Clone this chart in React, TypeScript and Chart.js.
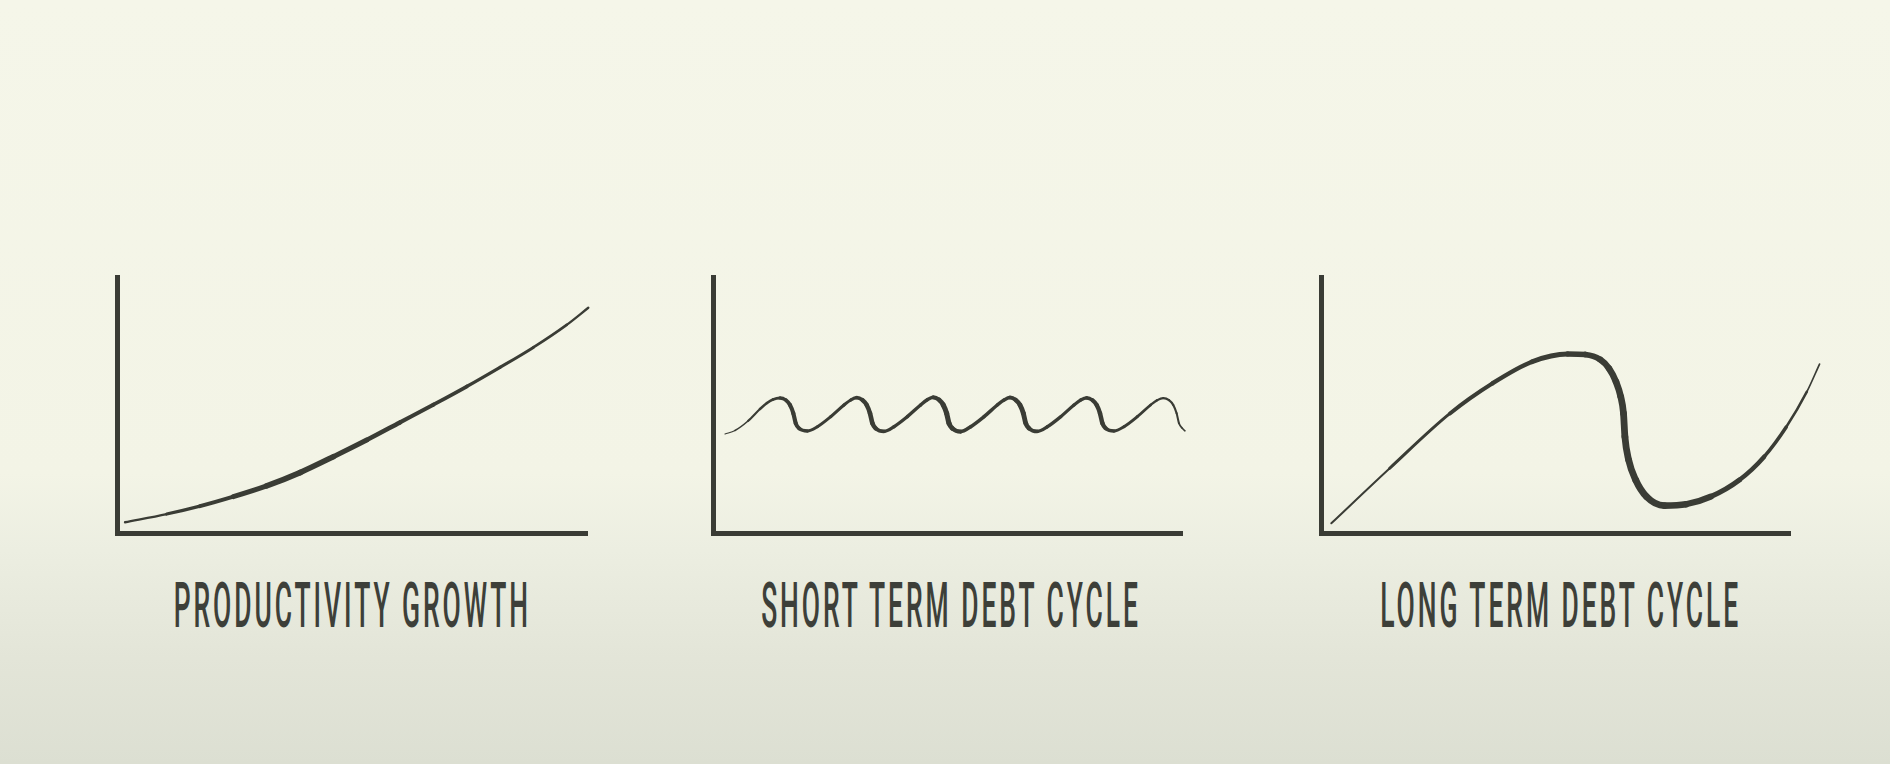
import React, { useEffect, useRef } from "react";
import { Chart, registerables } from "chart.js";

Chart.register(...registerables);

// ---- data (axis units: 0..100 along each axis) ----
const growthX = [1.7, 10.57, 17.66, 24.75, 31.84, 38.94, 46.03, 53.12, 60.21, 67.3, 74.4, 81.49, 88.58, 95.67, 100.28];
const growthY = [4.2, 7.4, 10.5, 14.2, 18.4, 23.6, 29.8, 36.3, 43.2, 50.1, 57.2, 64.7, 72.5, 81.3, 88.0];

const shortX = [
  2.56, 4.69, 7.46, 10.02, 11.51, 12.79, 14.29,
  15.51, 16.42, 17.13, 17.64, 18.34, 20.11, 22.26, 25.1, 27.93, 29.36, 30.64,
  31.86, 32.77, 33.48, 33.99, 34.69, 36.46, 38.59, 41.43, 44.26, 45.69, 46.97,
  48.19, 49.1, 49.81, 50.32, 51.02, 52.79, 54.95, 57.79, 60.62, 62.05, 63.33,
  64.55, 65.46, 66.17, 66.68, 67.38, 69.15, 71.3, 74.14, 76.97, 78.4, 79.68,
  80.9, 81.81, 82.52, 83.03, 83.73, 85.5, 87.63, 90.47, 93.3, 94.73, 96.01,
  97.23, 98.14, 98.85, 99.36, 100.06, 100.64,
];
const shortY = [
  38.67, 40.04, 43.75, 48.44, 50.78, 52.15, 52.73,
  51.95, 50.0, 46.76, 42.85, 40.9, 39.84, 41.52, 45.43, 50.0, 51.95, 52.85,
  51.95, 50.0, 46.76, 42.85, 40.9, 39.7, 41.52, 45.43, 50.0, 52.05, 53.0,
  52.05, 50.0, 46.76, 42.85, 40.9, 39.6, 41.52, 45.43, 50.0, 51.95, 52.9,
  51.95, 50.0, 46.76, 42.85, 40.9, 39.7, 41.52, 45.43, 50.0, 51.95, 52.8,
  51.9, 50.0, 46.76, 42.85, 40.9, 39.84, 41.52, 45.43, 50.0, 51.9, 52.7,
  51.9, 50.0, 46.76, 42.85, 40.9, 39.9,
];

const longX = [2.2, 14.6, 27.5, 36.6, 45.0, 52.6, 56.4, 59.5, 61.4, 62.9, 63.9, 64.5, 64.8, 65.6, 67.1, 69.4, 73.2, 77.8, 83.1, 89.2, 94.5, 99.2, 103.6, 106.3];
const longY = [3.8, 25.2, 46.7, 58.5, 66.9, 69.9, 69.7, 67.8, 64.3, 59.1, 53.3, 46.7, 37.6, 28.5, 20.7, 14.2, 10.7, 11.2, 14.2, 20.7, 29.8, 41.4, 55.2, 66.0];

const panelTitles = ["PRODUCTIVITY GROWTH", "SHORT TERM DEBT CYCLE", "LONG TERM DEBT CYCLE"];
const axisMin = 0;
const axisMax = 100;

// ---- styling / layout ----
const INK = "#3a3c35";
const TEXT_INK = "#3d3f39";
const PAD = { left: 20, right: 50, top: 20, bottom: 20 };
const AREA_TOP = 277;
const AREA_HEIGHT = 256;

type Stop = [number, number];
type PanelDef = { xs: number[]; ys: number[]; left: number; width: number; taper: Stop[]; downGain: number; labelCenter: number };
const panels: PanelDef[] = [
  { xs: growthX, ys: growthY, left: 117, width: 470, taper: [[0, 1.8], [0.18, 3.8], [0.36, 6.0], [0.55, 4.6], [0.8, 3.2], [1, 2.2]], downGain: 0, labelCenter: 351 },
  { xs: shortX, ys: shortY, left: 713, width: 469, taper: [[0, 1.0], [0.1, 2.8], [0.5, 3.6], [0.9, 3.0], [1, 1.1]], downGain: 0.45, labelCenter: 950 },
  { xs: longX, ys: longY, left: 1321, width: 469, taper: [[0, 1.5], [0.25, 3.6], [0.5, 5.4], [0.6, 6.8], [0.72, 6.6], [0.88, 4.2], [1, 1.4]], downGain: 0, labelCenter: 1559 },
];

function taperAt(stops: Stop[], t: number): number {
  if (t <= stops[0][0]) return stops[0][1];
  for (let i = 1; i < stops.length; i++) {
    if (t <= stops[i][0]) {
      const [t0, w0] = stops[i - 1];
      const [t1, w1] = stops[i];
      return w0 + ((t - t0) / (t1 - t0)) * (w1 - w0);
    }
  }
  return stops[stops.length - 1][1];
}

function Panel({ def }: { def: PanelDef }) {
  const { xs, ys, left, width, taper, downGain } = def;
  const ref = useRef<HTMLCanvasElement | null>(null);
  useEffect(() => {
    if (!ref.current) return;
    const first = xs[0];
    const last = xs[xs.length - 1];
    const common = {
      grid: { display: false, drawTicks: false },
      ticks: { display: false },
      border: { display: true, width: 5, color: INK },
    };
    const chart = new Chart(ref.current, {
      type: "line",
      data: {
        datasets: [
          {
            data: xs.map((x, i) => ({ x, y: ys[i] })),
            borderColor: INK,
            borderWidth: 3,
            borderCapStyle: "round",
            borderJoinStyle: "round",
            pointRadius: 0,
            cubicInterpolationMode: "monotone",
            capBezierPoints: false,
            clip: false,
            fill: false,
            segment: {
              borderWidth: (ctx: any) => {
                const mid = (xs[ctx.p0DataIndex] + xs[ctx.p1DataIndex]) / 2;
                let w = taperAt(taper, (mid - first) / (last - first));
                if (downGain) {
                  const dx = ctx.p1.x - ctx.p0.x;
                  const dy = ctx.p1.y - ctx.p0.y;
                  const len = Math.hypot(dx, dy) || 1;
                  w *= 1 + downGain * Math.max(0, dy / len);
                }
                return w;
              },
            },
          } as any,
        ],
      },
      options: {
        animation: false,
        responsive: false,
        events: [],
        layout: { padding: PAD },
        plugins: {
          legend: { display: false },
          tooltip: { enabled: false },
          title: { display: false },
        },
        scales: {
          x: {
            type: "linear",
            ...common,
            afterDataLimits: (scale: any) => {
              scale.min = axisMin;
              scale.max = axisMax;
            },
          },
          y: { type: "linear", min: axisMin, max: axisMax, ...common },
        } as any,
      },
    });
    return () => chart.destroy();
  }, [def]);
  return (
    <canvas
      ref={ref}
      width={width + PAD.left + PAD.right}
      height={AREA_HEIGHT + PAD.top + PAD.bottom}
      style={{ position: "absolute", left: left - PAD.left, top: AREA_TOP - PAD.top, display: "block" }}
    />
  );
}

export default function App() {
  return (
    <div
      style={{
        position: "fixed",
        left: 0,
        top: 0,
        width: 1890,
        height: 764,
        overflow: "hidden",
        background:
          "linear-gradient(to bottom, #f5f6e9 0%, #f3f4e6 62%, #eceee1 72%, #e3e5d8 86%, #dcdfd2 100%)",
      }}
    >
      {panels.map((p, i) => (
        <React.Fragment key={i}>
          <Panel def={p} />
          <div
            style={{
              position: "absolute",
              left: p.labelCenter - 700,
              width: 1400,
              top: 574,
              textAlign: "center",
              fontFamily: "Roboto, 'DejaVu Sans', sans-serif",
              fontWeight: 500,
              fontSize: 63,
              lineHeight: "63px",
              color: TEXT_INK,
              whiteSpace: "nowrap",
            }}
          >
            <span
              style={{
                display: "inline-block",
                letterSpacing: 7,
                paddingLeft: 7,
                transform: "scaleX(0.42)",
                transformOrigin: "center",
              }}
            >
              {panelTitles[i]}
            </span>
          </div>
        </React.Fragment>
      ))}
    </div>
  );
}
